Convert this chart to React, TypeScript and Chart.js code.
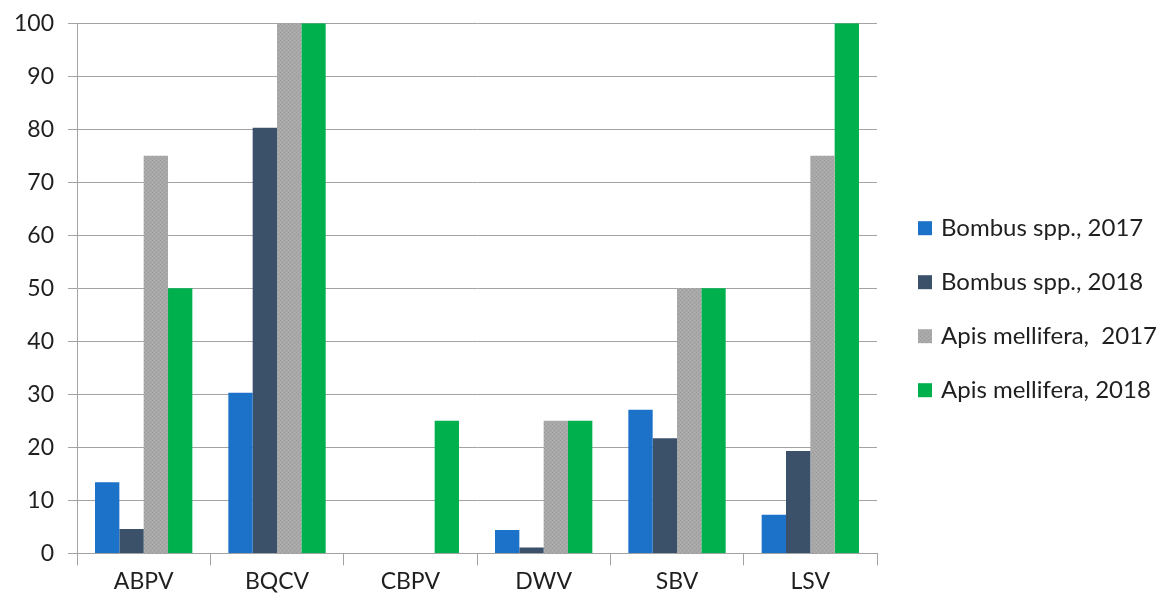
import React, { useEffect, useRef } from "react";
import { Chart, registerables } from "chart.js";

Chart.register(...registerables);

const categories = ["ABPV", "BQCV", "CBPV", "DWV", "SBV", "LSV"];
const bombus2017 = [13.4, 30.3, 0, 4.4, 27.1, 7.3];
const bombus2018 = [4.6, 80.3, 0, 1.1, 21.7, 19.3];
const apis2017 = [75, 100, 0, 25, 50, 75];
const apis2018 = [50, 100, 25, 25, 50, 100];
const seriesLabels = [
  "Bombus spp., 2017",
  "Bombus spp., 2018",
  "Apis mellifera,  2017",
  "Apis mellifera, 2018",
];
const seriesColors = ["#1C72C8", "#3B5169", "#A6A6A6", "#00B04C"];

const FONT = "Lato, 'Open Sans', sans-serif";
const TEXT = "#1F1F1F";
const GRID = "#A3A3A3";

function makeGrayPattern(): CanvasPattern | string {
  const c = document.createElement("canvas");
  c.width = 4;
  c.height = 4;
  const g = c.getContext("2d");
  if (!g) return seriesColors[2];
  g.fillStyle = "#A8A8A8";
  g.fillRect(0, 0, 4, 4);
  g.fillStyle = "#9C9C9C";
  g.fillRect(0, 0, 1, 1);
  g.fillRect(2, 2, 1, 1);
  g.fillStyle = "#B0B0B0";
  g.fillRect(2, 0, 1, 1);
  g.fillRect(0, 2, 1, 1);
  return g.createPattern(c, "repeat") || seriesColors[2];
}

const sideLegend = {
  id: "sideLegend",
  afterDraw(chart: any) {
    const ctx = chart.ctx as CanvasRenderingContext2D;
    const area = chart.chartArea;
    ctx.save();
    ctx.font = `24px ${FONT}`;
    ctx.textBaseline = "middle";
    ctx.textAlign = "left";
    const boxX = area.right + 41;
    const y0 = area.top + 205;
    const rowH = 54;
    chart.data.datasets.forEach((ds: any, i: number) => {
      const y = y0 + i * rowH;
      ctx.fillStyle = ds.backgroundColor;
      ctx.fillRect(boxX, y - 7, 14, 14);
      ctx.fillStyle = TEXT;
      ctx.fillText(ds.label, boxX + 23, y);
    });
    ctx.restore();
  },
};

export default function App() {
  const canvasRef = useRef<HTMLCanvasElement | null>(null);

  useEffect(() => {
    document.body.style.margin = "0";
    const canvas = canvasRef.current;
    if (!canvas) return;
    const values = [bombus2017, bombus2018, apis2017, apis2018];
    const gray = makeGrayPattern();
    const chart = new Chart(canvas, {
      type: "bar",
      data: {
        labels: categories,
        datasets: values.map((v, i) => ({
          label: seriesLabels[i],
          data: v,
          backgroundColor: i === 2 ? (gray as any) : seriesColors[i],
          borderWidth: 0,
          categoryPercentage: 0.73,
          barPercentage: 1.0,
        })),
      },
      options: {
        responsive: false,
        animation: false,
        devicePixelRatio: 1,
        layout: { padding: { left: 0, right: 296, top: 4, bottom: 11 } },
        plugins: {
          legend: { display: false },
          tooltip: { enabled: false },
        },
        scales: {
          x: {
            grid: {
              display: true,
              drawOnChartArea: false,
              drawTicks: true,
              tickLength: 12,
              color: GRID,
              offset: true,
            },
            border: { display: false },
            ticks: {
              color: TEXT,
              font: { family: FONT, size: 23 },
              padding: 2,
            },
          },
          y: {
            min: 0,
            max: 100,
            ticks: {
              stepSize: 10,
              color: TEXT,
              font: { family: FONT, size: 23, lineHeight: 0.8 },
              padding: 14,
            },
            grid: {
              color: GRID,
              tickLength: 9,
              lineWidth: 1,
            },
            border: { display: true, color: GRID, width: 1 },
          },
        },
      },
      plugins: [sideLegend],
    });
    return () => chart.destroy();
  }, []);

  return (
    <div style={{ width: 1173, height: 608, background: "#fff" }}>
      <canvas ref={canvasRef} width={1173} height={608} />
    </div>
  );
}
